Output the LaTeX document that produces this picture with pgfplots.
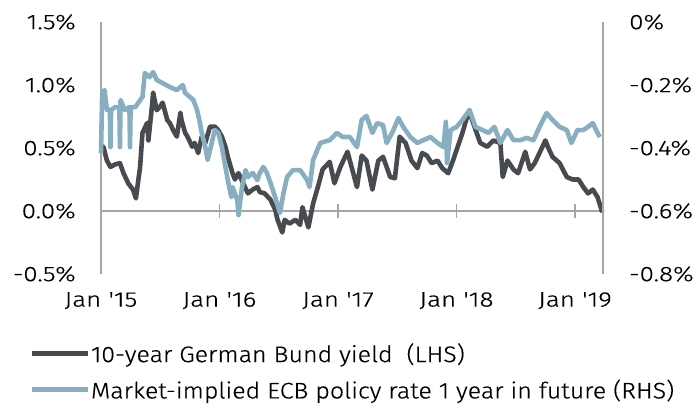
\documentclass[border=0pt]{standalone}
\usepackage{fontspec}
\setmainfont{Fira Sans Light}
\newfontfamily\tickfont{Fira Sans Light}[FakeStretch=1.24,FakeBold=0.45]
\newfontfamily\legfont{Fira Sans Light}[FakeStretch=1.11,FakeBold=0.45]
\usepackage{pgfplots}
\usepackage{pgfplotstable}
\pgfplotsset{compat=1.18}
\definecolor{bund}{HTML}{474B50}
\definecolor{ecb}{HTML}{87AFC1}
\definecolor{axgray}{HTML}{A6A6A6}

\pgfplotstableread{
x y
2015.00 0.48
2015.02 0.51
2015.05 0.40
2015.08 0.35
2015.12 0.37
2015.16 0.38
2015.19 0.30
2015.23 0.22
2015.27 0.17
2015.295 0.10
2015.30 0.14
2015.33 0.35
2015.35 0.62
2015.39 0.70
2015.40 0.56
2015.43 0.83
2015.44 0.94
2015.47 0.80
2015.50 0.83
2015.52 0.86
2015.56 0.72
2015.58 0.70
2015.61 0.64
2015.64 0.59
2015.67 0.78
2015.68 0.72
2015.71 0.62
2015.73 0.59
2015.77 0.51
2015.79 0.54
2015.82 0.46
2015.85 0.59
2015.88 0.54
2015.92 0.67
2015.96 0.67
2015.99 0.64
2016.02 0.59
2016.05 0.51
2016.07 0.43
2016.11 0.30
2016.13 0.25
2016.16 0.30
2016.20 0.22
2016.24 0.14
2016.28 0.17
2016.32 0.19
2016.34 0.15
2016.38 0.14
2016.43 0.09
2016.47 0.01
2016.49 -0.07
2016.53 -0.17
2016.55 -0.07
2016.59 -0.10
2016.64 -0.07
2016.68 -0.11
2016.70 0.03
2016.75 -0.13
2016.79 0.06
2016.83 0.19
2016.87 0.33
2016.93 0.39
2016.97 0.22
2017.02 0.35
2017.08 0.47
2017.12 0.33
2017.16 0.19
2017.20 0.44
2017.24 0.40
2017.29 0.17
2017.34 0.40
2017.38 0.43
2017.44 0.27
2017.48 0.26
2017.52 0.59
2017.57 0.54
2017.62 0.40
2017.67 0.34
2017.71 0.46
2017.75 0.44
2017.79 0.38
2017.84 0.40
2017.88 0.34
2017.93 0.30
2017.97 0.40
2018.01 0.51
2018.05 0.62
2018.09 0.75
2018.11 0.78
2018.14 0.70
2018.20 0.54
2018.26 0.51
2018.31 0.56
2018.37 0.54
2018.39 0.27
2018.43 0.40
2018.48 0.33
2018.52 0.30
2018.58 0.47
2018.62 0.33
2018.66 0.38
2018.70 0.46
2018.75 0.56
2018.77 0.51
2018.81 0.43
2018.87 0.38
2018.93 0.27
2018.98 0.25
2019.03 0.25
2019.07 0.19
2019.11 0.14
2019.15 0.17
2019.19 0.11
2019.23 -0.01
}\bundtable

\pgfplotstableread{
x y
2015.00 -0.416
2015.01 -0.225
2015.03 -0.216
2015.05 -0.279
2015.075 -0.279
2015.08 -0.397
2015.085 -0.279
2015.12 -0.270
2015.155 -0.270
2015.16 -0.397
2015.165 -0.248
2015.20 -0.279
2015.24 -0.270
2015.245 -0.397
2015.25 -0.270
2015.29 -0.270
2015.33 -0.248
2015.35 -0.238
2015.37 -0.162
2015.41 -0.175
2015.44 -0.159
2015.47 -0.184
2015.52 -0.194
2015.58 -0.206
2015.64 -0.216
2015.69 -0.200
2015.71 -0.225
2015.75 -0.238
2015.78 -0.248
2015.81 -0.279
2015.83 -0.311
2015.85 -0.352
2015.88 -0.397
2015.90 -0.438
2015.94 -0.375
2015.96 -0.343
2015.99 -0.352
2016.02 -0.397
2016.05 -0.460
2016.07 -0.502
2016.10 -0.556
2016.11 -0.524
2016.15 -0.565
2016.16 -0.613
2016.19 -0.524
2016.22 -0.470
2016.24 -0.492
2016.28 -0.479
2016.32 -0.502
2016.34 -0.479
2016.37 -0.460
2016.40 -0.479
2016.43 -0.511
2016.47 -0.556
2016.51 -0.606
2016.54 -0.543
2016.57 -0.492
2016.62 -0.470
2016.68 -0.470
2016.74 -0.502
2016.76 -0.524
2016.79 -0.438
2016.85 -0.384
2016.93 -0.375
2016.99 -0.352
2017.04 -0.365
2017.10 -0.365
2017.16 -0.397
2017.20 -0.311
2017.24 -0.298
2017.29 -0.352
2017.33 -0.321
2017.38 -0.327
2017.41 -0.384
2017.46 -0.349
2017.51 -0.305
2017.55 -0.333
2017.61 -0.365
2017.67 -0.384
2017.72 -0.375
2017.78 -0.365
2017.84 -0.384
2017.89 -0.397
2017.91 -0.317
2017.92 -0.448
2017.95 -0.343
2018.00 -0.333
2018.05 -0.311
2018.11 -0.279
2018.16 -0.333
2018.22 -0.343
2018.27 -0.352
2018.32 -0.333
2018.37 -0.384
2018.43 -0.343
2018.48 -0.375
2018.54 -0.375
2018.59 -0.368
2018.65 -0.375
2018.70 -0.333
2018.76 -0.289
2018.81 -0.311
2018.87 -0.333
2018.93 -0.343
2018.97 -0.384
2019.02 -0.343
2019.07 -0.343
2019.11 -0.333
2019.15 -0.321
2019.19 -0.352
2019.21 -0.365
}\ecbtable

\begin{document}
\begin{tikzpicture}
\path[use as bounding box] (0,0) rectangle (697pt,-408pt);
\begin{axis}[
  at={(101pt,-274pt)}, anchor=south west,
  width=502pt, height=252pt, scale only axis,
  xmin=2015, xmax=2019.236, ymin=-0.5, ymax=1.5,
  axis y line*=left, axis x line*=bottom,
  x axis line style={draw=none},
  y axis line style={axgray, line width=1.4pt, -},
  ytick={-0.5,0,0.5,1,1.5},
  xtick={2015,2016,2017,2018,2019},
  xticklabels={Jan '15, Jan '16, Jan '17, Jan '18, Jan '19},
  major tick length=0pt,
  tick label style={font=\tickfont\fontsize{21}{25}\selectfont, inner sep=0pt, text=black},
  yticklabel={\pgfmathprintnumber[fixed,fixed zerofill,precision=1,assume math mode=true]{\tick}\%},
  yticklabel style={anchor=east, xshift=-25pt},
  xticklabel style={anchor=north, yshift=-18pt},
  clip=false,
]
\draw[axgray, line width=1.4pt] (axis cs:2015,0) -- (axis cs:2019.236,0);
\pgfplotsinvokeforeach{2016,2017,2018,2019}{
  \draw[axgray, line width=1.4pt] ([yshift=-7pt]axis cs:#1,0) -- ([yshift=7pt]axis cs:#1,0);
}
\addplot[bund, line width=4.6pt, line join=round] table[x=x,y=y] {\bundtable};
\end{axis}
\begin{axis}[
  at={(101pt,-274pt)}, anchor=south west,
  width=502pt, height=252pt, scale only axis,
  xmin=2015, xmax=2019.236, ymin=-0.8, ymax=0,
  axis y line*=right, axis x line=none,
  y axis line style={axgray, line width=1.4pt, -},
  ytick={-0.8,-0.6,-0.4,-0.2,0},
  major tick length=0pt,
  tick label style={font=\tickfont\fontsize{21}{25}\selectfont, inner sep=0pt, text=black},
  yticklabel={\pgfmathprintnumber[fixed,precision=1,assume math mode=true]{\tick}\%},
  yticklabel style={anchor=west, xshift=26pt},
  clip=false,
  legend style={at={(axis description cs:-0.143,-0.27)}, anchor=north west,
    draw=none, fill=none, inner sep=0pt, row sep=14pt,
    font=\legfont\fontsize{22.5}{26}\selectfont,
    nodes={inner sep=1pt, anchor=west}},
  legend cell align=left,
  legend image code/.code={\draw[#1] (0pt,0pt) -- (56pt,0pt);},
]
\addlegendimage{bund, line width=4.6pt}
\addlegendentry{10-year German Bund yield~ (LHS)}
\addplot[ecb, line width=4.6pt, line join=round] table[x=x,y=y] {\ecbtable};
\addlegendentry{Market-implied ECB policy rate 1 year in future (RHS)}
\end{axis}
\end{tikzpicture}
\end{document}
